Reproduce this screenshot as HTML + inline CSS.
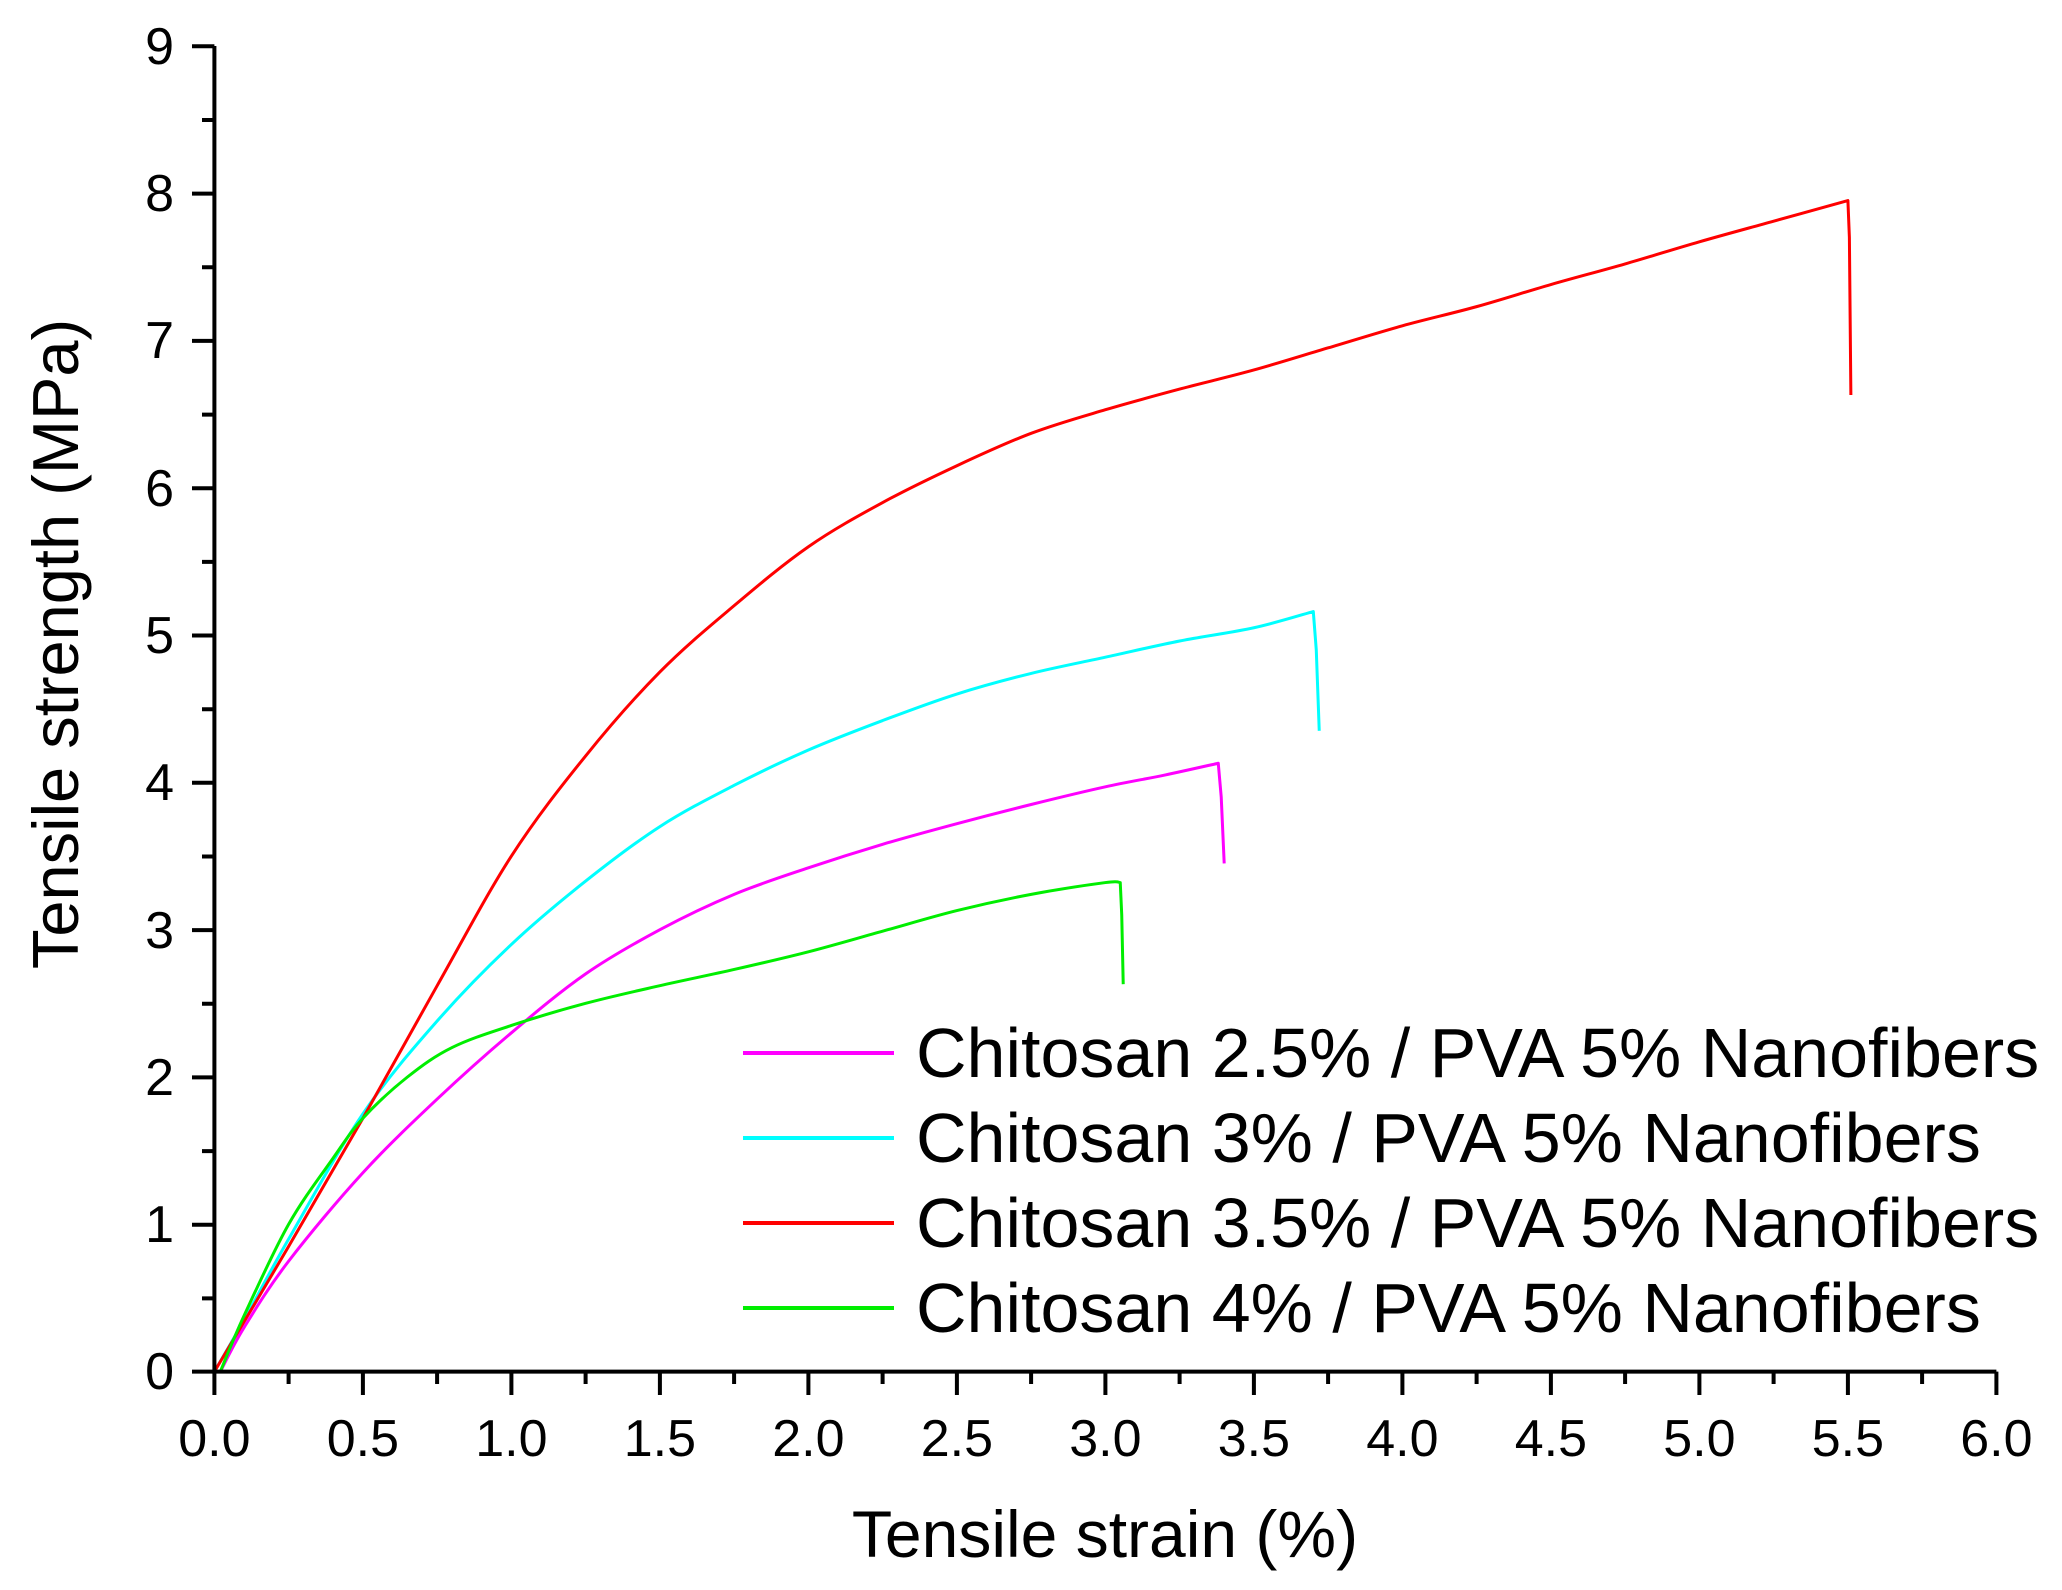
<!DOCTYPE html>
<html><head><meta charset="utf-8"><style>
html,body{margin:0;padding:0;background:#fff;}
svg{display:block;font-family:"Liberation Sans",Arial,sans-serif;}
</style></head><body>
<svg id="s" width="2062" height="1590" viewBox="0 0 2062 1590" xmlns="http://www.w3.org/2000/svg">
<rect width="2062" height="1590" fill="#fff"/>
<g id="curves" fill="none" stroke-width="3" stroke-linejoin="round"></g>
<g stroke="#000" stroke-width="4" fill="none">
<path d="M214.4,46 V1371.6 H1996.4"/>
<path d="M192,46.3 H214.4 M192,193.6 H214.4 M192,340.9 H214.4 M192,488.2 H214.4 M192,635.5 H214.4 M192,782.8 H214.4 M192,930.1 H214.4 M192,1077.4 H214.4 M192,1224.7 H214.4 M192,1371.6 H214.4"/>
<path d="M202,120 H214.4 M202,267.3 H214.4 M202,414.6 H214.4 M202,561.9 H214.4 M202,709.2 H214.4 M202,856.5 H214.4 M202,1003.8 H214.4 M202,1151.1 H214.4 M202,1298.4 H214.4"/>
<path d="M214.4,1371.6 V1395 M362.9,1371.6 V1395 M511.4,1371.6 V1395 M659.9,1371.6 V1395 M808.4,1371.6 V1395 M956.9,1371.6 V1395 M1105.4,1371.6 V1395 M1253.9,1371.6 V1395 M1402.4,1371.6 V1395 M1550.9,1371.6 V1395 M1699.4,1371.6 V1395 M1847.9,1371.6 V1395 M1996.4,1371.6 V1395"/>
<path d="M288.6,1371.6 V1384 M437.1,1371.6 V1384 M585.6,1371.6 V1384 M734.1,1371.6 V1384 M882.6,1371.6 V1384 M1031.1,1371.6 V1384 M1179.6,1371.6 V1384 M1328.1,1371.6 V1384 M1476.6,1371.6 V1384 M1625.1,1371.6 V1384 M1773.6,1371.6 V1384 M1922.1,1371.6 V1384"/>
</g>
<g font-size="52" fill="#000" text-anchor="end">
<text x="174" y="64">9</text><text x="174" y="211">8</text><text x="174" y="358">7</text><text x="174" y="506">6</text><text x="174" y="653">5</text><text x="174" y="800">4</text><text x="174" y="948">3</text><text x="174" y="1095">2</text><text x="174" y="1242">1</text><text x="174" y="1389">0</text>
</g>
<g font-size="52" fill="#000" text-anchor="middle">
<text x="214.4" y="1456">0.0</text><text x="362.9" y="1456">0.5</text><text x="511.4" y="1456">1.0</text><text x="659.9" y="1456">1.5</text><text x="808.4" y="1456">2.0</text><text x="956.9" y="1456">2.5</text><text x="1105.4" y="1456">3.0</text><text x="1253.9" y="1456">3.5</text><text x="1402.4" y="1456">4.0</text><text x="1550.9" y="1456">4.5</text><text x="1699.4" y="1456">5.0</text><text x="1847.9" y="1456">5.5</text><text x="1996.4" y="1456">6.0</text>
</g>
<text x="1105" y="1557" font-size="66" text-anchor="middle">Tensile strain (%)</text>
<text transform="translate(78,644) rotate(-90)" font-size="65" text-anchor="middle">Tensile strength (MPa)</text>
<g stroke-width="4">
<line x1="743" y1="1053" x2="894" y2="1053" stroke="#ff00ff"/>
<line x1="743" y1="1138" x2="894" y2="1138" stroke="#00ffff"/>
<line x1="743" y1="1223" x2="894" y2="1223" stroke="#ff0000"/>
<line x1="743" y1="1308" x2="894" y2="1308" stroke="#00ee00"/>
</g>
<g font-size="70" fill="#000">
<text x="916" y="1077">Chitosan 2.5% / PVA 5% Nanofibers</text>
<text x="916" y="1162">Chitosan 3% / PVA 5% Nanofibers</text>
<text x="916" y="1247">Chitosan 3.5% / PVA 5% Nanofibers</text>
<text x="916" y="1332">Chitosan 4% / PVA 5% Nanofibers</text>
</g>
</svg>
<script>
var data=[
["#ff00ff",[[0.02,0],[0.1,0.3],[0.25,0.75],[0.5,1.35],[0.75,1.85],[1.0,2.3],[1.25,2.7],[1.5,3.0],[1.75,3.24],[2.0,3.42],[2.25,3.58],[2.5,3.72],[2.75,3.85],[3.0,3.97],[3.2,4.05],[3.38,4.13]],[[3.39,3.9],[3.4,3.45]]],
["#00ffff",[[0,0],[0.1,0.35],[0.25,0.9],[0.5,1.75],[0.75,2.38],[1.0,2.9],[1.25,3.33],[1.5,3.7],[1.75,3.98],[2.0,4.22],[2.25,4.42],[2.5,4.6],[2.75,4.74],[3.0,4.85],[3.25,4.96],[3.5,5.05],[3.7,5.16]],[[3.71,4.9],[3.72,4.35]]],
["#ff0000",[[0,0],[0.25,0.85],[0.5,1.72],[0.75,2.62],[1.0,3.5],[1.25,4.18],[1.5,4.75],[1.75,5.2],[2.0,5.6],[2.25,5.9],[2.5,6.15],[2.75,6.37],[3.0,6.53],[3.25,6.67],[3.5,6.8],[3.75,6.95],[4.0,7.1],[4.25,7.23],[4.5,7.38],[4.75,7.52],[5.0,7.67],[5.25,7.81],[5.5,7.95]],[[5.505,7.7],[5.51,6.63]]],
["#00ee00",[[0.02,0],[0.1,0.38],[0.25,1.0],[0.4,1.45],[0.5,1.72],[0.65,2.0],[0.8,2.2],[1.0,2.35],[1.25,2.5],[1.5,2.62],[1.75,2.73],[2.0,2.85],[2.25,2.99],[2.5,3.13],[2.75,3.24],[3.0,3.32],[3.05,3.32]],[[3.055,3.1],[3.06,2.63]]]
];
function X(x){return 214.4+x*297}function Y(y){return 1371.6-y*147.3}
var g=document.getElementById('curves'),ns="http://www.w3.org/2000/svg";
data.forEach(function(d){
 var p=d[1].map(function(q){return [X(q[0]),Y(q[1])]});
 var s="M"+p[0][0]+","+p[0][1];
 for(var i=0;i<p.length-1;i++){
  var p0=p[i-1]||p[i],p1=p[i],p2=p[i+1],p3=p[i+2]||p2;
  var c1=[p1[0]+(p2[0]-p0[0])/6,p1[1]+(p2[1]-p0[1])/6],c2=[p2[0]-(p3[0]-p1[0])/6,p2[1]-(p3[1]-p1[1])/6];
  s+=" C"+c1+" "+c2+" "+p2;
 }
 d[2].forEach(function(q){s+=" L"+X(q[0])+","+Y(q[1])});
 var e=document.createElementNS(ns,"path");e.setAttribute("d",s);e.setAttribute("stroke",d[0]);g.appendChild(e);
});
</script>
</body></html>
